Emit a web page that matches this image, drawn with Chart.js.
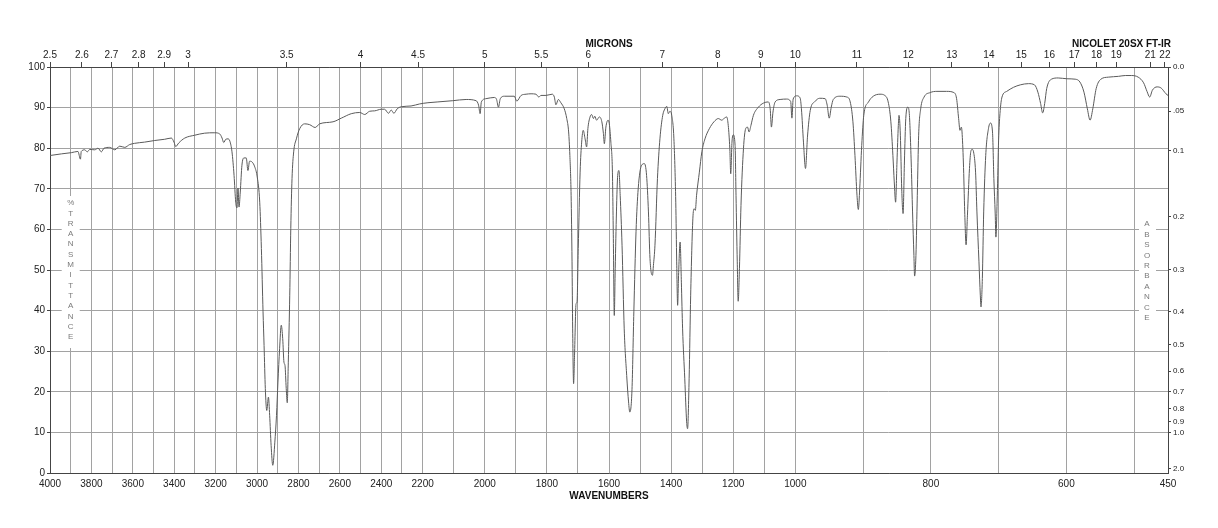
<!DOCTYPE html>
<html>
<head>
<meta charset="utf-8">
<title>FT-IR spectrum</title>
<script src="https://cdn.jsdelivr.net/npm/chart.js@4.4.1/dist/chart.umd.min.js"></script>
<style>
  html, body { margin: 0; padding: 0; background: #fff; }
  canvas { display: block; }
</style>
</head>
<body>
<canvas id="spectrum" width="1218" height="528"></canvas>
<script>
// spectrum: wavenumber (cm-1) and % transmittance
const wavenumbers = [
  4000, 3945, 3897, 3865, 3853, 3849, 3832, 3820, 3808, 3784, 3768, 3752, 3739, 3712, 3687, 3663,
  3639, 3615, 3591, 3543, 3494, 3446, 3414, 3401, 3393, 3378, 3349, 3301, 3253, 3204, 3180, 3169,
  3161, 3151, 3140, 3131, 3121, 3111, 3103, 3097, 3092, 3087, 3081, 3073, 3063, 3052, 3044, 3036,
  3024, 3011, 2999, 2987, 2979, 2971, 2966, 2960, 2953, 2945, 2939, 2932, 2924, 2914, 2906, 2899,
  2891, 2883, 2876, 2870, 2865, 2859, 2854, 2849, 2842, 2837, 2831, 2823, 2810, 2794, 2770, 2746,
  2719, 2698, 2633, 2593, 2545, 2504, 2480, 2456, 2432, 2400, 2384, 2365, 2352, 2339, 2323, 2304,
  2256, 2215, 2183, 2151, 2103, 2060, 2028, 2020, 2015, 2011, 1996, 1969, 1962, 1956, 1950, 1937,
  1905, 1897, 1883, 1867, 1851, 1835, 1826, 1819, 1803, 1783, 1776, 1771, 1763, 1755, 1744, 1736,
  1730, 1726, 1722, 1719, 1717, 1714, 1711, 1706, 1703, 1699, 1693, 1688, 1683, 1677, 1672, 1668,
  1661, 1656, 1650, 1646, 1640, 1631, 1623, 1618, 1615, 1610, 1603, 1599, 1594, 1589, 1586, 1583,
  1580, 1576, 1572, 1568, 1564, 1558, 1551, 1543, 1537, 1533, 1526, 1520, 1513, 1506, 1495, 1486,
  1479, 1473, 1468, 1460, 1457, 1452, 1444, 1436, 1427, 1420, 1414, 1409, 1404, 1398, 1391, 1385,
  1382, 1379, 1376, 1371, 1367, 1363, 1356, 1350, 1347, 1342, 1337, 1330, 1326, 1322, 1318, 1309,
  1301, 1291, 1277, 1262, 1248, 1237, 1230, 1221, 1216, 1211, 1208, 1204, 1200, 1194, 1191, 1187,
  1184, 1180, 1175, 1167, 1160, 1154, 1149, 1143, 1135, 1119, 1103, 1087, 1081, 1077, 1072, 1065,
  1049, 1028, 1015, 1011, 1007, 998, 993, 991, 988, 985, 982, 978, 971, 964, 956, 953,
  950, 947, 944, 934, 924, 919, 915, 912, 909, 907, 905, 902, 899, 892, 885, 875,
  868, 863, 859, 856, 854, 852, 850, 848, 847, 845, 843, 841, 839, 837, 834, 832,
  829, 827, 825, 824, 822, 820, 818, 815, 810, 801, 791, 777, 766, 762, 759, 757,
  755, 754, 752, 750, 748, 746, 743, 741, 739, 737, 734, 732, 729, 727, 726, 724,
  722, 719, 715, 712, 709, 707, 705, 704, 702, 700, 698, 695, 688, 678, 668, 656,
  647, 642, 638, 635, 632, 629, 622, 612, 599, 587, 580, 574, 569, 565, 561, 556,
  549, 538, 523, 513, 504, 494, 486, 481, 477, 473, 466, 460, 453, 450
];
const transmittance = [
  78.2, 78.6, 78.9, 79.2, 77.3, 79.2, 79.6, 79.1, 79.7, 79.6, 80.0, 79.1, 80.0, 80.2, 79.6, 80.5,
  80.2, 80.9, 81.2, 81.5, 81.9, 82.2, 82.5, 81.5, 80.4, 81.3, 82.5, 83.2, 83.7, 83.8, 83.5, 82.5,
  81.4, 82.2, 82.3, 81.7, 79.1, 73.3, 66.7, 65.3, 70.2, 65.5, 69.2, 75.8, 77.6, 77.6, 74.5, 76.8,
  76.6, 75.4, 72.9, 66.7, 55.3, 39.7, 31.4, 20.8, 15.4, 18.7, 14.2, 6.8, 1.9, 7.6, 14.2, 22.4,
  30.6, 36.4, 33.1, 27.3, 26.5, 20.8, 17.3, 27.3, 43.8, 60.2, 72.5, 79.1, 82.3, 84.8, 86.0, 85.8,
  85.1, 86.0, 86.5, 87.4, 88.5, 88.8, 88.3, 89.1, 89.2, 89.6, 89.6, 88.6, 89.4, 88.6, 89.7, 90.2,
  90.4, 90.9, 91.2, 91.4, 91.7, 92.0, 91.7, 90.6, 88.5, 91.4, 92.2, 92.5, 92.0, 90.1, 92.2, 92.8,
  92.8, 91.6, 93.0, 93.3, 93.4, 93.3, 92.6, 93.0, 93.0, 93.3, 92.6, 90.7, 92.0, 91.2, 89.7, 87.3,
  84.0, 78.2, 68.4, 52.0, 35.5, 22.0, 29.0, 41.7, 42.1, 55.3, 74.1, 81.5, 84.4, 82.3, 80.3, 84.8,
  87.7, 88.3, 87.3, 87.9, 86.9, 87.7, 86.5, 83.6, 81.1, 85.2, 86.9, 86.0, 81.5, 74.1, 57.7, 38.8,
  50.3, 64.3, 73.3, 74.5, 68.4, 56.1, 35.5, 24.0, 17.5, 15.0, 20.5, 39.7, 59.4, 70.0, 75.8, 76.2,
  73.3, 64.3, 52.8, 48.7, 51.1, 56.1, 72.5, 82.3, 88.1, 89.7, 90.3, 88.5, 89.1, 88.1, 82.3, 66.7,
  52.0, 41.3, 48.7, 56.9, 47.0, 35.5, 23.2, 12.6, 10.9, 23.2, 43.8, 62.6, 65.1, 64.7, 68.4, 74.1,
  79.1, 82.3, 84.8, 86.5, 87.3, 86.9, 87.3, 87.7, 85.6, 79.9, 73.7, 81.5, 83.3, 80.7, 68.4, 52.0,
  42.3, 50.3, 65.9, 79.9, 84.8, 85.2, 84.0, 85.6, 88.1, 90.1, 91.1, 91.4, 89.7, 85.2, 88.9, 91.4,
  92.0, 92.1, 91.5, 87.4, 92.1, 92.9, 92.4, 89.7, 81.5, 75.0, 83.0, 89.3, 91.5, 92.3, 92.2, 90.6,
  87.4, 90.1, 92.0, 92.8, 92.6, 91.4, 86.5, 78.2, 68.4, 64.9, 70.0, 80.7, 88.1, 91.4, 92.8, 93.3,
  93.0, 91.4, 86.5, 78.2, 71.7, 66.7, 76.6, 85.6, 88.1, 83.2, 70.0, 63.9, 76.6, 87.3, 90.1, 88.9,
  76.6, 64.3, 53.6, 48.5, 53.6, 68.4, 83.2, 89.7, 92.6, 93.7, 94.0, 94.0, 93.7, 92.2, 87.3, 84.4,
  85.2, 84.0, 76.6, 64.3, 56.2, 63.5, 75.0, 79.2, 79.7, 79.1, 74.1, 64.3, 52.0, 43.8, 40.9, 47.9,
  64.3, 78.2, 84.8, 86.2, 84.0, 72.5, 63.8, 58.1, 68.0, 82.0, 88.5, 92.6, 94.0, 95.0, 95.6, 95.9,
  95.6, 93.8, 91.0, 88.7, 91.0, 94.7, 97.0, 97.3, 97.1, 97.0, 96.3, 93.8, 89.7, 86.9, 89.7, 94.7,
  97.0, 97.5, 97.7, 97.9, 97.9, 97.5, 96.1, 94.0, 92.6, 94.3, 95.1, 94.8, 93.4, 93.0
];

const wavenumberLabels = [4000, 3800, 3600, 3400, 3200, 3000, 2800, 2600, 2400, 2200,
  2000, 1800, 1600, 1400, 1200, 1000, 800, 600, 450];
const micronTicks = [2.5, 2.6, 2.7, 2.8, 2.9, 3, 3.5, 4, 4.5, 5, 5.5, 6, 7, 8, 9, 10,
  11, 12, 13, 14, 15, 16, 17, 18, 19, 21, 22];
const absorbanceTicks = [0, 0.05, 0.1, 0.2, 0.3, 0.4, 0.5, 0.6, 0.7, 0.8, 0.9, 1.0, 2.0];
const absorbanceLabels = ['0.0', '.05', '0.1', '0.2', '0.3', '0.4', '0.5', '0.6', '0.7', '0.8', '0.9', '1.0', '2.0'];

// x axis is three equal-width linear pieces: 4000-2200, 2200-1000, 1000-450
const axisBreaks = [4000, 2200, 1000, 450];

function wavenumberFraction(w) {
  for (let i = 0; i < 3; i++) {
    const hi = axisBreaks[i], lo = axisBreaks[i + 1];
    if (w >= lo || i === 2) return (i + (hi - w) / (hi - lo)) / 3;
  }
}

function fractionToWavenumber(f) {
  const t = Math.min(Math.max(f * 3, 0), 3);
  const i = Math.min(Math.floor(t), 2);
  const hi = axisBreaks[i], lo = axisBreaks[i + 1];
  return hi - (t - i) * (hi - lo);
}

class WavenumberScale extends Chart.LinearScale {
  getPixelForValue(value) {
    return this.left + this.width * wavenumberFraction(value);
  }
  getValueForPixel(pixel) {
    return fractionToWavenumber((pixel - this.left) / this.width);
  }
}
WavenumberScale.id = 'wavenumber';
WavenumberScale.defaults = {};
Chart.register(WavenumberScale);

const gridWavenumbers = [];
for (let w = 4000; w >= 500; w -= 100) gridWavenumbers.push(w);
gridWavenumbers.push(450);

const fontFamily = '"Liberation Sans", Arial, Helvetica, sans-serif';
const gridColor = '#a2a2a2';
const frameColor = '#444';
const textColor = '#222';

function drawStacked(ctx, text, x, y, step) {
  for (let i = 0; i < text.length; i++) {
    ctx.fillText(text[i], x, y + i * step);
  }
}

const spectrumLabels = {
  id: 'spectrumLabels',
  beforeDatasetsDraw(chart) {
    const { ctx, scales: { x, y } } = chart;
    ctx.save();
    // left: %TRANSMITTANCE over the 3900 gridline
    const lx = x.getPixelForValue(3900);
    const ly = y.getPixelForValue(66.5);
    ctx.fillStyle = '#fff';
    ctx.fillRect(lx - 9, ly - 7, 18, 152);
    // right: ABSORBANCE
    const rx = x.getPixelForValue(481);
    const ry = y.getPixelForValue(61.3);
    ctx.fillRect(rx - 8, ry - 7, 17, 109);

    ctx.fillStyle = '#7a7a7a';
    ctx.font = '8px ' + fontFamily;
    ctx.textAlign = 'center';
    ctx.textBaseline = 'middle';
    drawStacked(ctx, '%TRANSMITTANCE', lx, ly, 10.3);
    drawStacked(ctx, 'ABSORBANCE', rx, ry, 10.4);
    ctx.restore();
  },
  afterDraw(chart) {
    const { ctx, chartArea } = chart;
    ctx.save();
    ctx.fillStyle = '#111';
    ctx.font = 'bold 10px ' + fontFamily;
    ctx.textAlign = 'right';
    ctx.textBaseline = 'middle';
    ctx.fillText('NICOLET 20SX FT-IR', chartArea.right + 3, 44);
    ctx.restore();
  }
};

new Chart(document.getElementById('spectrum'), {
  type: 'line',
  data: {
    datasets: [{
      data: wavenumbers.map((w, i) => ({ x: w, y: transmittance[i] })),
      borderColor: '#5a5a5a',
      borderWidth: 1,
      pointRadius: 0,
      fill: false,
      cubicInterpolationMode: 'monotone',
      xAxisID: 'x',
      yAxisID: 'y'
    }]
  },
  options: {
    responsive: false,
    animation: false,
    devicePixelRatio: 1,
    layout: { padding: 0 },
    plugins: { legend: { display: false }, tooltip: { enabled: false } },
    scales: {
      x: {
        type: 'wavenumber',
        position: 'bottom',
        min: 450,
        max: 4000,
        afterBuildTicks: s => { s.ticks = gridWavenumbers.map(v => ({ value: v })); },
        afterFit: s => { s.height = 55; },
        grid: { color: gridColor, lineWidth: 1, drawTicks: false },
        border: { display: true, color: frameColor, width: 1 },
        ticks: {
          autoSkip: false, maxRotation: 0, padding: 5, color: textColor,
          font: { family: fontFamily, size: 10 },
          callback: v => wavenumberLabels.includes(v) ? String(v) : ''
        },
        title: {
          display: true, text: 'WAVENUMBERS', color: '#111',
          font: { family: fontFamily, size: 10, weight: 'bold' },
          padding: { top: 0, bottom: 26 }
        }
      },
      x2: {
        type: 'wavenumber',
        position: 'top',
        min: 450,
        max: 4000,
        afterBuildTicks: s => { s.ticks = micronTicks.map(m => ({ value: 10000 / m })); },
        afterFit: s => { s.height = 67; },
        grid: { drawOnChartArea: false, tickLength: 5, tickColor: frameColor },
        border: { display: true, color: frameColor, width: 1 },
        ticks: {
          autoSkip: false, maxRotation: 0, padding: 1, color: textColor,
          font: { family: fontFamily, size: 10 },
          callback: (v, i) => String(micronTicks[i])
        },
        title: {
          display: true, text: 'MICRONS', color: '#111',
          font: { family: fontFamily, size: 10, weight: 'bold' },
          padding: { top: 38, bottom: 0 }
        }
      },
      y: {
        position: 'left',
        min: 0,
        max: 100,
        afterFit: s => { s.width = 50; },
        grid: { color: gridColor, tickLength: 3, tickColor: frameColor },
        border: { display: true, color: frameColor, width: 1 },
        ticks: {
          stepSize: 10, padding: 2, color: textColor,
          font: { family: fontFamily, size: 10 }
        }
      },
      y2: {
        position: 'right',
        min: 0,
        max: 100,
        afterBuildTicks: s => { s.ticks = absorbanceTicks.map(a => ({ value: 100 * Math.pow(10, -a) })); },
        afterFit: s => { s.width = 50; },
        grid: { drawOnChartArea: false, tickLength: 3, tickColor: frameColor },
        border: { display: true, color: frameColor, width: 1 },
        ticks: {
          autoSkip: false, padding: 2, color: textColor,
          font: { family: fontFamily, size: 8 },
          callback: (v, i) => absorbanceLabels[i]
        }
      }
    }
  },
  plugins: [spectrumLabels]
});
</script>
</body>
</html>
